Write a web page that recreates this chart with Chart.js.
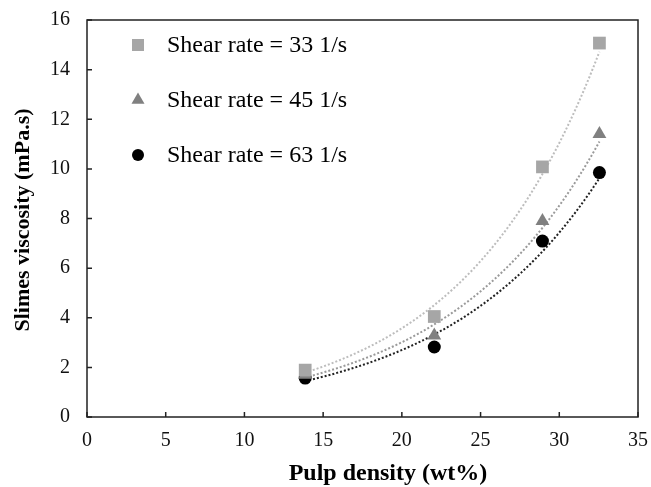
<!DOCTYPE html>
<html>
<head>
<meta charset="utf-8">
<script src="https://cdn.jsdelivr.net/npm/chart.js@4.4.1/dist/chart.umd.min.js"></script>
<style>
  html, body { margin: 0; padding: 0; background: #fff; }
  #wrap { width: 651px; height: 487px; }
</style>
</head>
<body>
<div id="wrap"><canvas id="c" width="651" height="487"></canvas></div>
<script>
// ---- data ----
const pulpDensity = [13.86, 22.06, 28.93, 32.55];
const visc33 = [1.89, 4.05, 10.08, 15.07];
const visc45 = [1.7, 3.28, 7.9, 11.41];
const visc63 = [1.57, 2.82, 7.09, 9.85];
const seriesLabels = ['Shear rate = 33 1/s', 'Shear rate = 45 1/s', 'Shear rate = 63 1/s'];
const xTitle = 'Pulp density (wt%)';
const yTitle = 'Slimes viscosity (mPa.s)';
const xTicks = [0, 5, 10, 15, 20, 25, 30, 35];
const yTicks = [0, 2, 4, 6, 8, 10, 12, 14, 16];

// exponential trendline (least squares on ln y), as the original chart's trendlines
function expTrend(xs, ys) {
  const n = xs.length;
  const ly = ys.map(Math.log);
  const mx = xs.reduce((a, b) => a + b, 0) / n;
  const my = ly.reduce((a, b) => a + b, 0) / n;
  let sxy = 0, sxx = 0;
  for (let i = 0; i < n; i++) { sxy += (xs[i] - mx) * (ly[i] - my); sxx += (xs[i] - mx) ** 2; }
  const b = sxy / sxx, a = Math.exp(my - b * mx);
  const x0 = Math.min(...xs), x1 = Math.max(...xs);
  const pts = [];
  const steps = 60;
  for (let i = 0; i <= steps; i++) {
    const x = x0 + (x1 - x0) * i / steps;
    pts.push({ x, y: a * Math.exp(b * x) });
  }
  return pts;
}
const toPts = ys => pulpDensity.map((x, i) => ({ x, y: ys[i] }));

const markerStyles = [
  { style: 'rect', color: '#A6A6A6', radius: 9 },
  { style: 'triangle', color: '#808080', radius: 8 },
  { style: 'circle', color: '#000000', radius: 6.5 }
];
const trendColors = ['#BDBDBD', '#9A9A9A', '#222222'];
const allSeries = [visc33, visc45, visc63];

const datasets = [];
allSeries.forEach((ys, i) => {
  datasets.push({
    type: 'scatter',
    label: seriesLabels[i],
    data: toPts(ys),
    pointStyle: markerStyles[i].style,
    pointRadius: markerStyles[i].radius,
    pointHoverRadius: markerStyles[i].radius,
    backgroundColor: markerStyles[i].color,
    borderColor: markerStyles[i].color,
    borderWidth: 0,
    order: 1
  });
});
allSeries.forEach((ys, i) => {
  datasets.push({
    type: 'line',
    label: 'trend' + i,
    data: expTrend(pulpDensity, ys),
    borderColor: trendColors[i],
    borderWidth: 2,
    borderDash: [2, 2],
    pointRadius: 0,
    fill: false,
    tension: 0,
    order: 2
  });
});

const framePlugin = {
  id: 'frame',
  afterDraw(chart, args, opts) {
    const { ctx, chartArea: a, scales } = chart;
    ctx.save();
    ctx.strokeStyle = '#222';
    ctx.lineWidth = 1.5;
    ctx.strokeRect(a.left, a.top, a.right - a.left, a.bottom - a.top);
    ctx.beginPath();
    yTicks.forEach(v => {
      const y = scales.y.getPixelForValue(v);
      ctx.moveTo(a.left, y); ctx.lineTo(a.left + 5, y);
    });
    xTicks.forEach(v => {
      const x = scales.x.getPixelForValue(v);
      ctx.moveTo(x, a.bottom); ctx.lineTo(x, a.bottom - 5);
    });
    ctx.stroke();
    // axis titles
    ctx.fillStyle = '#000';
    ctx.textAlign = 'center';
    ctx.font = opts.xFont;
    ctx.textBaseline = 'alphabetic';
    ctx.fillText(xTitle, opts.xTitleX, opts.xTitleY);
    ctx.translate(opts.yTitleX, opts.yTitleY);
    ctx.rotate(-Math.PI / 2);
    ctx.font = opts.yFont;
    ctx.textBaseline = 'middle';
    ctx.fillText(yTitle, 0, 0);
    ctx.restore();
  }
};

const legendPlugin = {
  id: 'insideLegend',
  afterDraw(chart, args, opts) {
    const { ctx } = chart;
    ctx.save();
    ctx.font = opts.font;
    ctx.textBaseline = 'middle';
    seriesLabels.forEach((lab, i) => {
      const y = opts.y0 + i * opts.dy;
      const m = markerStyles[i];
      ctx.fillStyle = m.color;
      ctx.beginPath();
      if (m.style === 'rect') {
        const s = 6;
        ctx.rect(opts.mx - s, y - s, 2 * s, 2 * s);
      } else if (m.style === 'triangle') {
        const r = 7.5;
        ctx.moveTo(opts.mx, y - r);
        ctx.lineTo(opts.mx + r * Math.sin(Math.PI / 3), y + r / 2);
        ctx.lineTo(opts.mx - r * Math.sin(Math.PI / 3), y + r / 2);
        ctx.closePath();
      } else {
        ctx.arc(opts.mx, y, 6, 0, Math.PI * 2);
      }
      ctx.fill();
      ctx.fillStyle = '#000';
      ctx.fillText(lab, opts.tx, y + 1);
    });
    ctx.restore();
  }
};

new Chart(document.getElementById('c'), {
  data: { datasets },
  options: {
    responsive: false,
    animation: false,
    events: [],
    layout: { padding: { top: 20, right: 13, left: 0, bottom: 0 } },
    plugins: {
      legend: { display: false },
      tooltip: { enabled: false },
      insideLegend: { font: '24px "Liberation Serif"', mx: 138, tx: 167, y0: 45, dy: 55 },
      frame: {
        xFont: 'bold 24px "Liberation Serif"', xTitleX: 388, xTitleY: 480,
        yFont: 'bold 22px "Liberation Serif"', yTitleX: 23, yTitleY: 220
      }
    },
    scales: {
      x: {
        type: 'linear', min: 0, max: 35,
        afterBuildTicks: s => { s.ticks = xTicks.map(v => ({ value: v })); },
        afterFit: s => { s.height = 70; s.paddingLeft = 0; s.paddingRight = 0; },
        grid: { display: false, drawTicks: false },
        border: { display: false },
        ticks: { font: { family: 'Liberation Serif', size: 20 }, color: '#111', padding: 12 }
      },
      y: {
        type: 'linear', min: 0, max: 16,
        afterBuildTicks: s => { s.ticks = yTicks.map(v => ({ value: v })); },
        afterFit: s => { s.width = 87; s.paddingTop = 0; s.paddingBottom = 0; },
        grid: { display: false, drawTicks: false },
        border: { display: false },
        ticks: { font: { family: 'Liberation Serif', size: 20 }, color: '#111', padding: 17 }
      }
    }
  },
  plugins: [framePlugin, legendPlugin]
});
</script>
</body>
</html>
